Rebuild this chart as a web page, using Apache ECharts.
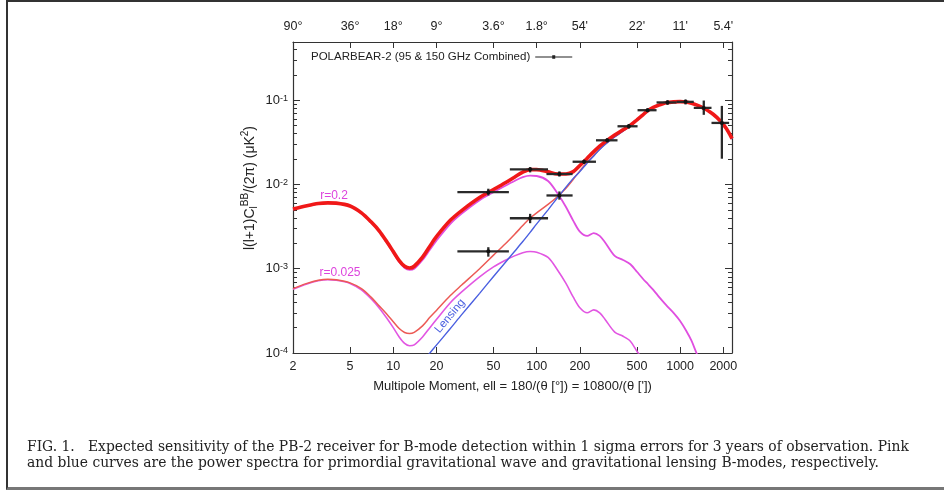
<!DOCTYPE html>
<html><head><meta charset="utf-8">
<script src="https://cdn.jsdelivr.net/npm/echarts@6/dist/echarts.min.js"></script>
<style>
html,body{margin:0;padding:0;background:#fff;}
#chart{position:absolute;left:0;top:0;width:944px;height:492px;}
#frame{position:absolute;left:6px;top:0;width:960px;height:485px;border-left:2px solid #333;border-top:2px solid #333;border-bottom:3px solid #777;pointer-events:none;}
</style></head><body>
<div id="chart"></div><div id="frame"></div>
<script>
// ---- data ----
const ell = [2, 2.5, 3, 3.5, 4, 5, 6, 7, 8, 9, 10, 11, 12, 13, 14, 16, 18, 20, 25, 30, 40, 50, 60, 70, 80, 90, 100, 120, 140, 160, 180, 200, 225, 250, 275, 300, 350, 400, 450, 500, 550, 600, 650, 700, 800, 900, 1000, 1100, 1200, 1300, 1400, 1500, 1700, 1900, 2100, 2300];

const totalR02 = [5.1e-3, 5.6e-3, 5.95e-3, 6.05e-3, 6.0e-3, 5.55e-3, 4.6e-3, 3.6e-3, 2.8e-3, 2.1e-3, 1.6e-3, 1.25e-3, 1.07e-3, 1.02e-3, 1.07e-3, 1.37e-3, 1.85e-3, 2.4e-3, 3.75e-3, 4.9e-3, 7.0e-3, 8.7e-3, 1.04e-2, 1.22e-2, 1.4e-2, 1.5e-2, 1.5e-2, 1.41e-2, 1.33e-2, 1.33e-2, 1.42e-2, 1.68e-2, 2.05e-2, 2.45e-2, 2.85e-2, 3.2e-2, 3.85e-2, 4.45e-2, 5.05e-2, 5.85e-2, 6.7e-2, 7.6e-2, 8.2e-2, 8.65e-2, 9.3e-2, 9.55e-2, 9.6e-2, 9.5e-2, 9.2e-2, 8.8e-2, 8.35e-2, 7.85e-2, 6.8e-2, 5.7e-2, 4.6e-2, 3.5e-2];

const totalR0025 = [5.8e-4, 6.7e-4, 7.3e-4, 7.5e-4, 7.4e-4, 6.8e-4, 5.8e-4, 4.6e-4, 3.6e-4, 2.9e-4, 2.35e-4, 1.95e-4, 1.75e-4, 1.7e-4, 1.76e-4, 2.1e-4, 2.65e-4, 3.2e-4, 4.8e-4, 6.4e-4, 1.0e-3, 1.45e-3, 1.95e-3, 2.55e-3, 3.25e-3, 4.0e-3, 4.6e-3, 5.8e-3, 7.2e-3, 9.0e-3, 1.15e-2, 1.45e-2, 1.85e-2, 2.2e-2, 2.62e-2, 3.0e-2, 3.68e-2, 4.3e-2, 4.92e-2, 5.75e-2, 6.6e-2, 7.5e-2, 8.1e-2, 8.6e-2, 9.25e-2, 9.5e-2, 9.55e-2, 9.45e-2, 9.15e-2, 8.75e-2, 8.3e-2, 7.8e-2, 6.75e-2, 5.65e-2, 4.55e-2, 3.45e-2];

const primordialR02 = [5.05e-3, 5.55e-3, 5.9e-3, 6.0e-3, 5.95e-3, 5.5e-3, 4.55e-3, 3.55e-3, 2.75e-3, 2.05e-3, 1.55e-3, 1.2e-3, 1.02e-3, 9.7e-4, 1.0e-3, 1.27e-3, 1.68e-3, 2.15e-3, 3.4e-3, 4.5e-3, 6.5e-3, 8.1e-3, 9.6e-3, 1.1e-2, 1.22e-2, 1.27e-2, 1.26e-2, 1.1e-2, 7.8e-3, 5.4e-3, 3.7e-3, 2.75e-3, 2.45e-3, 2.65e-3, 2.45e-3, 2.05e-3, 1.42e-3, 1.27e-3, 1.13e-3, 9.2e-4, 7.6e-4, 6.5e-4, 5.6e-4, 4.8e-4, 3.7e-4, 3.0e-4, 2.4e-4, 1.85e-4, 1.4e-4, 1.0e-4, 7.5e-5, 5.6e-5, 3.2e-5, 1.8e-5, 1.0e-5, 5.5e-6];

const primordialR0025 = [5.7e-4, 6.6e-4, 7.2e-4, 7.4e-4, 7.3e-4, 6.7e-4, 5.6e-4, 4.4e-4, 3.4e-4, 2.6e-4, 2.0e-4, 1.55e-4, 1.3e-4, 1.22e-4, 1.25e-4, 1.55e-4, 2.0e-4, 2.5e-4, 3.95e-4, 5.3e-4, 8.0e-4, 1.05e-3, 1.25e-3, 1.42e-3, 1.55e-3, 1.6e-3, 1.57e-3, 1.36e-3, 9.6e-4, 6.7e-4, 4.6e-4, 3.45e-4, 3.0e-4, 3.25e-4, 3.0e-4, 2.5e-4, 1.77e-4, 1.58e-4, 1.38e-4, 1.05e-4, 8.5e-5, 7.2e-5, 6.2e-5, 5.3e-5, 4.1e-5, 3.3e-5, 2.6e-5, 2.0e-5, 1.5e-5, 1.1e-5, 8.2e-6, 6.0e-6, 3.5e-6, 2.0e-6, 1.1e-6, 6.0e-7];

const lensing = [null, null, null, null, null, null, null, null, null, null, null, null, null, null, null, 7.9e-5, 1.0e-4, 1.24e-4, 1.95e-4, 2.85e-4, 5.1e-4, 8.1e-4, 1.17e-3, 1.6e-3, 2.1e-3, 2.7e-3, 3.4e-3, 5.0e-3, 7.0e-3, 9.3e-3, 1.18e-2, 1.42e-2, 1.8e-2, 2.18e-2, 2.6e-2, 2.98e-2, 3.66e-2, 4.3e-2, 4.92e-2, 5.75e-2, 6.6e-2, 7.5e-2, 8.1e-2, 8.6e-2, 9.25e-2, 9.5e-2, 9.55e-2, 9.45e-2, 9.15e-2, 8.75e-2, 8.3e-2, 7.8e-2, 6.75e-2, 5.65e-2, 4.55e-2, 3.45e-2];

// PB-2 expected band powers (r = 0.2 + lensing)
const binCenter = [46, 90, 144, 214, 310, 439, 593, 817, 1091, 1462, 1955];
const binLow    = [28, 65, 117, 178, 259, 366, 505, 685, 944, 1245, 1655];
const binHigh   = [64, 120, 178, 259, 366, 505, 685, 944, 1245, 1655, 2196];
const bandValue = [8.1e-3, 1.51e-2, 1.33e-2, 1.86e-2, 3.34e-2, 4.9e-2, 7.6e-2, 9.4e-2, 9.55e-2, 8.1e-2, 5.37e-2];
const bandErrLo = [7.4e-3, 1.39e-2, 1.24e-2, 1.75e-2, 3.15e-2, 4.6e-2, 7.2e-2, 8.8e-2, 8.9e-2, 6.7e-2, 2.02e-2];
const bandErrHi = [8.9e-3, 1.6e-2, 1.43e-2, 1.97e-2, 3.52e-2, 5.2e-2, 8.0e-2, 1.0e-1, 1.02e-1, 9.9e-2, 8.55e-2];

// PB-2 expected band powers (r = 0.025 + lensing)
const binCenterLow = [46, 90, 144];
const binLowLow    = [28, 65, 117];
const binHighLow   = [64, 120, 178];
const bandValueLow = [1.61e-3, 3.97e-3, 7.4e-3];
const bandErrLoLow = [1.39e-3, 3.47e-3, 6.6e-3];
const bandErrHiLow = [1.80e-3, 4.48e-3, 8.26e-3];

// axis ticks
const xTicks = [2, 5, 10, 20, 50, 100, 200, 500, 1000, 2000];
const xTickLabels = ['2', '5', '10', '20', '50', '100', '200', '500', '1000', '2000'];
const topTickLabels = ['90°', '36°', '18°', '9°', '3.6°', '1.8°', "54'", "22'", "11'", "5.4'"];
const yMajor = [1e-4, 1e-3, 1e-2, 1e-1];
const yMinorMult = [2, 3, 4, 5, 6, 7, 8, 9];

// ---- chart ----
const yMinor = [];
yMajor.forEach(d => yMinorMult.forEach(m => { const v = d * m; if (v < 0.49) yMinor.push(v); }));

const FONT = 'Liberation Sans, Arial, Helvetica, sans-serif';
const AX = '#333';
const pts = (arr) => ell.map((e, i) => [e, arr[i]]);
const findIdx = (v) => xTicks.findIndex(t => Math.abs(t - v) / t < 1e-4);

const band = binCenter.map((c, i) => [c, bandValue[i], binLow[i], binHigh[i], bandErrLo[i], bandErrHi[i]]);
const bandLow = binCenterLow.map((c, i) => [c, bandValueLow[i], binLowLow[i], binHighLow[i], bandErrLoLow[i], bandErrHiLow[i]]);

function renderErr(params, api) {
  const y = api.value(1);
  const c = api.coord([api.value(0), y]);
  const l = api.coord([api.value(2), y]);
  const r = api.coord([api.value(3), y]);
  const b = api.coord([api.value(0), api.value(4)]);
  const t = api.coord([api.value(0), api.value(5)]);
  const st = { stroke: '#2a2a2a', lineWidth: 2.3 };
  return { type: 'group', children: [
    { type: 'line', shape: { x1: l[0], y1: c[1], x2: r[0], y2: c[1] }, style: st },
    { type: 'line', shape: { x1: c[0], y1: b[1], x2: c[0], y2: t[1] }, style: st },
    { type: 'circle', shape: { cx: c[0], cy: c[1], r: 2 }, style: { fill: '#111' } }
  ]};
}

function xAxisCfg(pos, labels) {
  return {
    type: 'log', position: pos, min: 2, max: 2300, logBase: 10,
    axisLine: { show: true, onZero: false, lineStyle: { color: AX, width: 1.2 } },
    axisTick: { show: true, inside: true, length: 6, customValues: xTicks, lineStyle: { color: AX, width: 1 } },
    axisLabel: { show: true, customValues: xTicks, margin: pos === 'bottom' ? 7 : 9, color: '#222', fontSize: pos === 'bottom' ? 12.5 : 12.5, fontFamily: FONT,
      formatter: (v) => { const i = findIdx(v); return i >= 0 ? labels[i] : ''; } },
    splitLine: { show: false }, minorTick: { show: false }, axisPointer: { show: false }
  };
}
function yAxisCfg(pos, major) {
  return {
    type: 'log', position: pos, min: 1e-4, max: 0.49, logBase: 10,
    axisLine: { show: major, onZero: false, lineStyle: { color: AX, width: 1.2 } },
    axisTick: { show: true, inside: true, length: major ? 7 : 4, customValues: major ? yMajor : yMinor, lineStyle: { color: AX, width: 1 } },
    axisLabel: { show: major && pos === 'left', customValues: yMajor, margin: 5, color: '#222', fontSize: 13, fontFamily: FONT,
      formatter: (v) => '10{sup|' + Math.round(Math.log10(v)) + '}',
      rich: { sup: { fontSize: 9, fontFamily: FONT, color: '#222', verticalAlign: 'top', lineHeight: 9 } } },
    splitLine: { show: false }, minorTick: { show: false }
  };
}

const chart = echarts.init(document.getElementById('chart'), null, { renderer: 'canvas' });

function fitSize(text, family, target) {
  const c = document.createElement('canvas').getContext('2d');
  c.font = '100px ' + family;
  return 100 * target / c.measureText(text).width;
}
const cap1 = 'FIG. 1.   Expected sensitivity of the PB-2 receiver for B-mode detection within 1 sigma errors for 3 years of observation. Pink';
const cap2 = 'and blue curves are the power spectra for primordial gravitational wave and gravitational lensing B-modes, respectively.';
const SERIF = '"DejaVu Serif"';
const capSize = Math.min(14, Math.max(10, fitSize(cap1, SERIF, 882)));

const legendName = 'POLARBEAR-2 (95 & 150 GHz Combined)';

chart.setOption({
  animation: false,
  backgroundColor: '#fff',
  grid: { left: 293, right: 212, top: 42, bottom: 139, outerBoundsMode: 'none', containLabel: false },
  xAxis: [
    Object.assign(xAxisCfg('bottom', xTickLabels), {
      name: 'Multipole Moment, ell = 180/(θ [°]) = 10800/(θ [\'])', nameLocation: 'middle', nameGap: 27,
      nameTextStyle: { fontSize: 13, fontFamily: FONT, color: '#222' } }),
    xAxisCfg('top', topTickLabels)
  ],
  yAxis: [yAxisCfg('left', true), yAxisCfg('left', false), yAxisCfg('right', true), yAxisCfg('right', false)],
  legend: {
    data: [legendName], left: 306, top: 46, align: 'right', selectedMode: false,
    itemWidth: 37, itemHeight: 6, icon: 'path://M0,2.4L37,2.4L37,3.6L0,3.6Z M17,1.2L20,1.2L20,4.8L17,4.8Z',
    textStyle: { fontSize: 11.5, fontFamily: FONT, color: '#222' }
  },
  series: [
    { name: 'r=0.025 primordial', type: 'line', data: pts(primordialR0025), showSymbol: false, smooth: 0.3, z: 2,
      lineStyle: { color: '#e256e2', width: 1.6 }, clip: true },
    { name: 'r=0.025 + lensing', type: 'line', data: pts(totalR0025), showSymbol: false, smooth: 0.3, z: 3,
      lineStyle: { color: '#ec5a55', width: 1.5 }, clip: true },
    { name: 'Lensing', type: 'line', data: pts(lensing), showSymbol: false, smooth: 0.3, z: 4, connectNulls: false,
      lineStyle: { color: '#4a5fe0', width: 1.4 }, clip: true },
    { name: 'r=0.2 primordial', type: 'line', data: pts(primordialR02), showSymbol: false, smooth: 0.3, z: 5,
      lineStyle: { color: '#e04ee0', width: 1.8 }, clip: true },
    { name: 'r=0.2 + lensing', type: 'line', data: pts(totalR02), showSymbol: false, smooth: 0.3, z: 6,
      lineStyle: { color: '#f01818', width: 3.6 }, clip: true },
    { name: legendName, type: 'custom', renderItem: renderErr, data: band, z: 10, itemStyle: { color: '#222' },
      encode: { x: [0, 2, 3], y: [1, 4, 5] }, clip: true },
    { name: 'PB-2 r=0.025', type: 'custom', renderItem: renderErr, data: bandLow, z: 10, itemStyle: { color: '#222' },
      encode: { x: [0, 2, 3], y: [1, 4, 5] }, clip: true }
  ],
  graphic: [
    { type: 'text', x: 250, y: 188, rotation: Math.PI / 2, z: 20,
      style: { text: 'l(l+1)C{sub|l}{sup|BB}/(2π) (μK{sup|2})', fill: '#222', font: '14px ' + FONT, align: 'center', verticalAlign: 'middle',
        lineHeight: 19,
        rich: { sup: { fontSize: 10, fontFamily: FONT, fill: '#222', verticalAlign: 'top', lineHeight: 10 },
                sub: { fontSize: 10, fontFamily: FONT, fill: '#222', verticalAlign: 'bottom', lineHeight: 10 } } } },
    { type: 'text', x: 334, y: 196, z: 20, style: { text: 'r=0.2', fill: '#dd44dd', font: '12px ' + FONT, align: 'center', verticalAlign: 'middle' } },
    { type: 'text', x: 340, y: 273, z: 20, style: { text: 'r=0.025', fill: '#dd44dd', font: '12px ' + FONT, align: 'center', verticalAlign: 'middle' } },
    { type: 'text', x: 450, y: 316, rotation: 0.88, z: 20, style: { text: 'Lensing', fill: '#4a5fe0', font: '11.5px ' + FONT, align: 'center', verticalAlign: 'middle' } },
    { type: 'text', x: 27, y: 447, z: 20, style: { text: cap1, fill: '#222', font: capSize.toFixed(2) + 'px ' + SERIF, align: 'left', verticalAlign: 'middle' } },
    { type: 'text', x: 27, y: 463, z: 20, style: { text: cap2, fill: '#222', font: capSize.toFixed(2) + 'px ' + SERIF, align: 'left', verticalAlign: 'middle' } }
  ]
});
</script>
</body></html>
